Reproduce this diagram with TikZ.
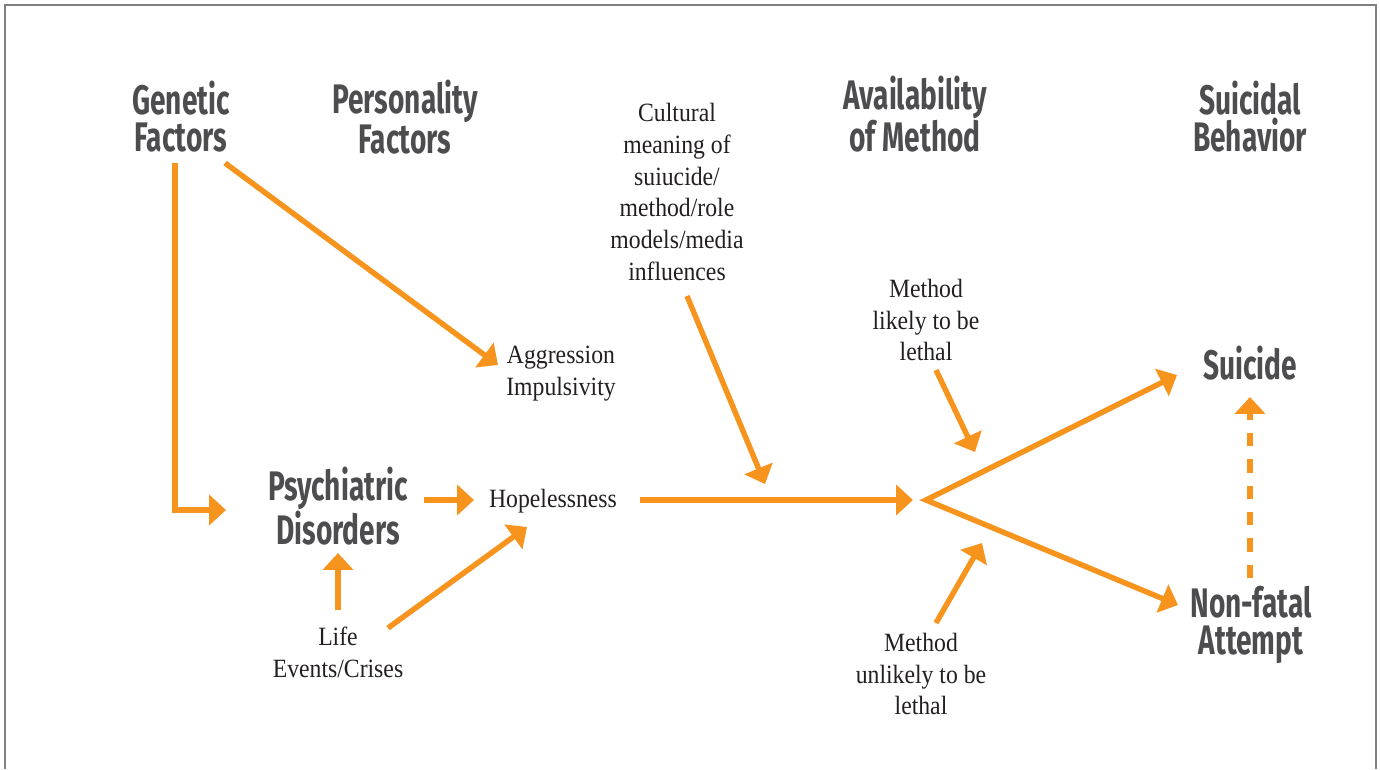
\documentclass[tikz,border=0pt]{standalone}
\usepackage{fontspec}
\usepackage{tikz}
\usetikzlibrary{calc,arrows.meta}
\setmainfont[FakeStretch=0.9]{Liberation Serif}
\newfontfamily\headfont[FakeStretch=0.68]{Fira Sans}
\definecolor{flow orange}{HTML}{F7941D}
\definecolor{head gray}{HTML}{4D4D4F}
\definecolor{body black}{HTML}{231F20}
\tikzset{x=0.02cm, y=-0.02cm,
     factor title/.style={align=center, inner sep=0pt, text=head gray,
           font=\headfont\bfseries\fontsize{23.5}{21}\selectfont},
     factor text/.style={align=center, inner sep=0pt, text=body black,
           font=\fontsize{15}{18.1}\selectfont},
     flow/.style={draw=flow orange, line width=3.1pt,
           -{Triangle[length=9.6pt, width=17pt]}},
     flow dashed/.style={flow, dash pattern=on 7.5pt off 7.5pt},
     frame line/.style={draw=black!50, line width=1.1pt}
     }

\begin{document}
\begin{tikzpicture}
\useasboundingbox (0,0) rectangle (1380,769);
\draw[frame line] (5,769) -- (5,5) -- (1376,5) -- (1376,769);

% column titles
\node (gen) [factor title] at (181,117) {Genetic\\Factors};
\node (pers) [factor title] at (405,117) {Personality\\Factors};
\node (avail) [factor title] at (915,114) {Availability\\of Method};
\node (behav) [factor title] at (1250,117) {Suicidal\\Behavior};

% boxes of the model
\node (psych) [factor title] at (338,506) {Psychiatric\\Disorders};
\node (suic) [factor title] at (1250,363) {Suicide};
\node (nonf) [factor title] at (1251,625) {Non-fatal\\Attempt};
\node (aggr) [factor text] at (561,374) {Aggression\\Impulsivity};
\node (hope) [factor text] at (553,501) {Hopelessness};
\node (life) [factor text] at (338,652) {Life\\Events/Crises};
\node (cult) [factor text] at (677,192) {Cultural\\meaning of\\suiucide/\\method/role\\models/media\\influences};
\node (likely) [factor text] at (926,320) {Method\\likely to be\\lethal};
\node (unlikely) [factor text] at (921,674) {Method\\unlikely to be\\lethal};

\coordinate (fork) at (926,500);
\coordinate (media in) at (765,484);
\coordinate (lethal in) at (975,452);
\coordinate (nonlethal in) at (982,543);

\draw[flow] ($(gen)+(-6,46)$) |- ($(psych)+(-112,4)$);
\draw[flow] ($(gen)+(44,46)$) -- ($(aggr)+(-63,-9)$);
\draw[flow] ($(psych)+(86,-6)$) -- ($(hope)+(-79,-1)$);
\draw[flow] ($(life)+(0,-42)$) -- ($(psych)+(0,47)$);
\draw[flow] ($(life)+(50,-24)$) -- ($(hope)+(-26,26)$);
\draw[flow] ($(cult)+(10,104)$) -- (media in);
\draw[flow, shorten >=7.4pt] ($(hope)+(87,-1)$) -- (fork);
\draw[flow, {Triangle[length=9.6pt, width=17pt]}-{Triangle[length=9.6pt, width=17pt]}]
  ($(suic)+(-73,12)$) -- (fork) -- ($(nonf)+(-73,-20)$);
\draw[flow] ($(likely)+(10,50)$) -- (lethal in);
\draw[flow] ($(unlikely)+(15,-51)$) -- (nonlethal in);
\draw[flow dashed] ($(nonf)+(-1,-47)$) -- ($(suic)+(0,34)$);
\end{tikzpicture}
\end{document}
